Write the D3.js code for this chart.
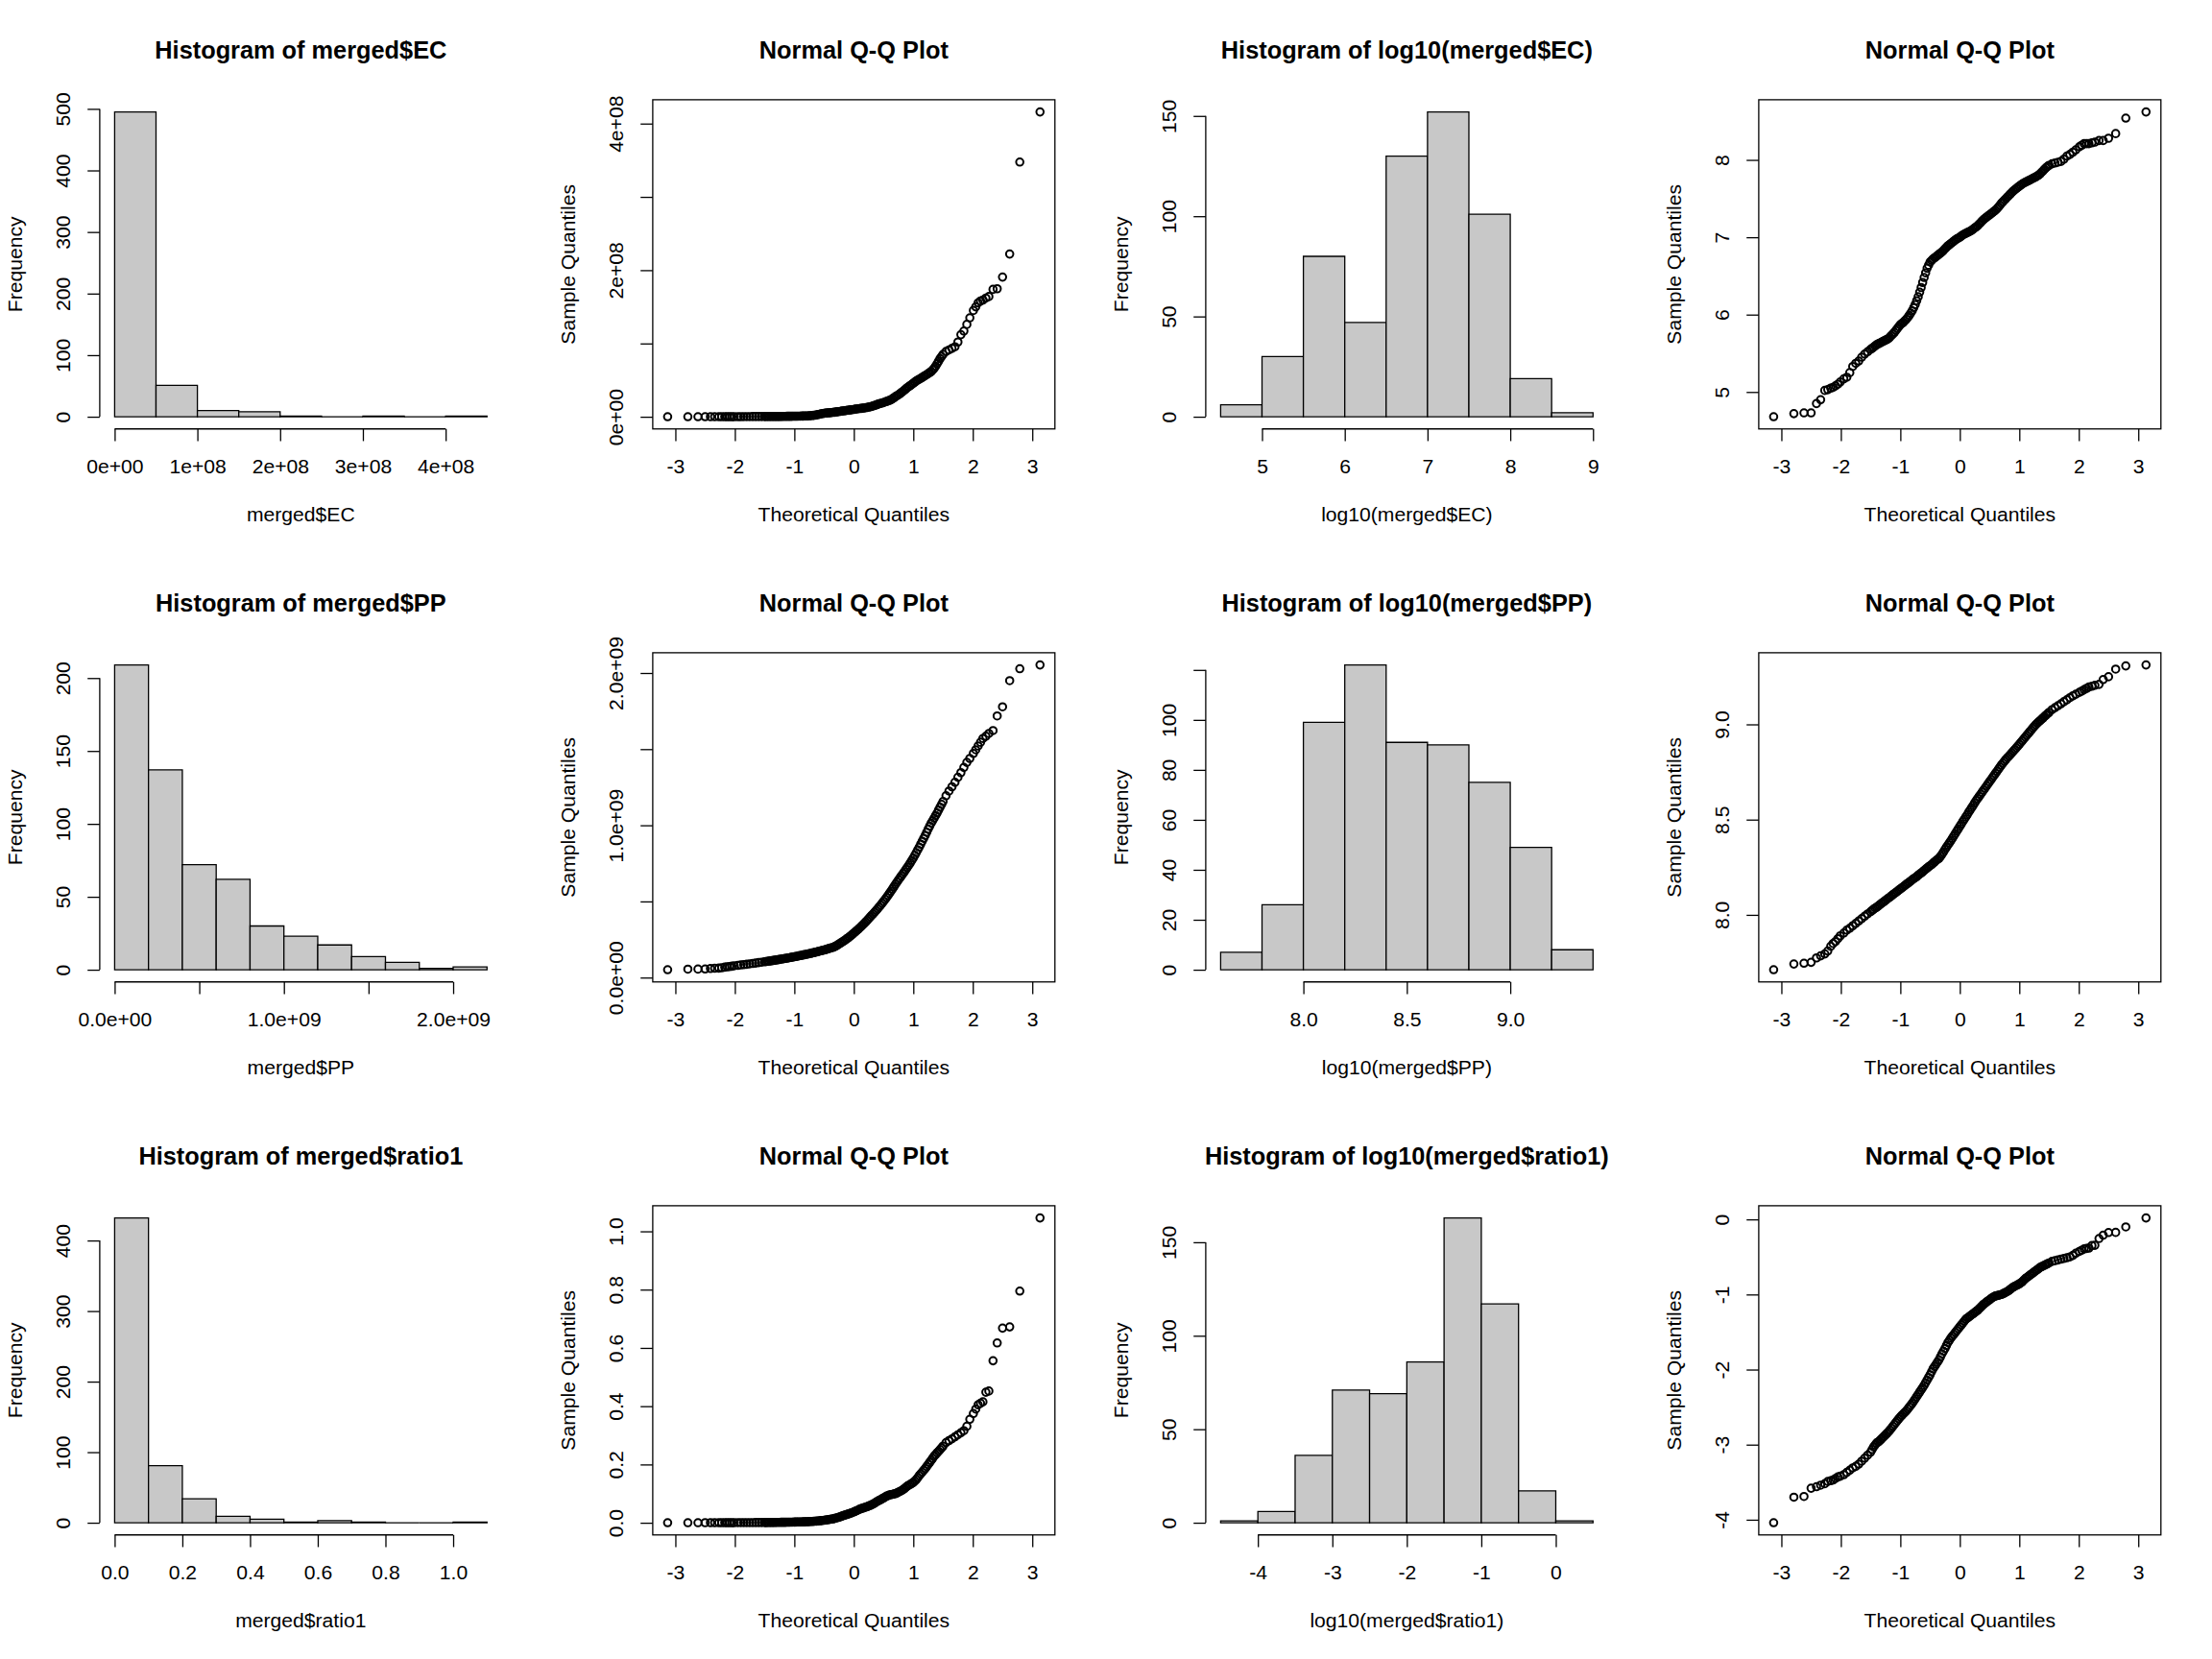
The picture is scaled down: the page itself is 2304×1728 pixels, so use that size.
<!DOCTYPE html>
<html>
<head>
<meta charset="utf-8">
<script src="https://cdn.jsdelivr.net/npm/d3@7"></script>
<style>
body { margin: 0; background: #fff; }
</style>
</head>
<body>
<script>
// ---- histogram data (x in plotted units: EC in 1e8, PP in 1e9) ----
var ecBreaks = [0, 0.5, 1, 1.5, 2, 2.5, 3, 3.5, 4, 4.5];
var ecCounts = [495, 51, 10, 8, 1, 0, 1, 0, 1];
var logEcBreaks = [4.5, 5, 5.5, 6, 6.5, 7, 7.5, 8, 8.5, 9];
var logEcCounts = [6, 30, 80, 47, 130, 152, 101, 19, 2];
var ppBreaks = [0, 0.2, 0.4, 0.6, 0.8, 1.0, 1.2, 1.4, 1.6, 1.8, 2.0, 2.2];
var ppCounts = [209, 137, 72, 62, 30, 23, 17, 9, 5, 1, 2];
var logPpBreaks = [7.6, 7.8, 8.0, 8.2, 8.4, 8.6, 8.8, 9.0, 9.2, 9.4];
var logPpCounts = [7, 26, 99, 122, 91, 90, 75, 49, 8];
var ratioBreaks = [0, 0.1, 0.2, 0.3, 0.4, 0.5, 0.6, 0.7, 0.8, 0.9, 1.0, 1.1];
var ratioCounts = [432, 81, 34, 9, 5, 1, 3, 1, 0, 0, 1];
var logRatioBreaks = [-4.5, -4, -3.5, -3, -2.5, -2, -1.5, -1, -0.5, 0, 0.5];
var logRatioCounts = [1, 6, 36, 71, 69, 86, 163, 117, 17, 1];

// ---- Q-Q data: theoretical quantiles and sample quantiles ----
// layout of every array: left tail (13) | -1.95..-1.55 (9) | -1.5..1.5 fine (121) | 1.55..1.95 (9) | right tail (13)
var theoQ = [
  -3.13, -2.79, -2.62, -2.50, -2.41, -2.34, -2.27, -2.22, -2.17, -2.13, -2.09, -2.05, -2.01,
  -1.95, -1.90, -1.85, -1.80, -1.75, -1.70, -1.65, -1.60, -1.55,
  -1.500, -1.475, -1.450, -1.425, -1.400, -1.375, -1.350, -1.325, -1.300, -1.275,
  -1.250, -1.225, -1.200, -1.175, -1.150, -1.125, -1.100, -1.075, -1.050, -1.025,
  -1.000, -0.975, -0.950, -0.925, -0.900, -0.875, -0.850, -0.825, -0.800, -0.775,
  -0.750, -0.725, -0.700, -0.675, -0.650, -0.625, -0.600, -0.575, -0.550, -0.525,
  -0.500, -0.475, -0.450, -0.425, -0.400, -0.375, -0.350, -0.325, -0.300, -0.275,
  -0.250, -0.225, -0.200, -0.175, -0.150, -0.125, -0.100, -0.075, -0.050, -0.025,
  0.000, 0.025, 0.050, 0.075, 0.100, 0.125, 0.150, 0.175, 0.200, 0.225,
  0.250, 0.275, 0.300, 0.325, 0.350, 0.375, 0.400, 0.425, 0.450, 0.475,
  0.500, 0.525, 0.550, 0.575, 0.600, 0.625, 0.650, 0.675, 0.700, 0.725,
  0.750, 0.775, 0.800, 0.825, 0.850, 0.875, 0.900, 0.925, 0.950, 0.975,
  1.000, 1.025, 1.050, 1.075, 1.100, 1.125, 1.150, 1.175, 1.200, 1.225,
  1.250, 1.275, 1.300, 1.325, 1.350, 1.375, 1.400, 1.425, 1.450, 1.475,
  1.500,
  1.55, 1.60, 1.65, 1.70, 1.75, 1.80, 1.85, 1.90, 1.95,
  2.01, 2.05, 2.09, 2.13, 2.17, 2.22, 2.27, 2.34, 2.41, 2.50, 2.62, 2.79, 3.13
];
// merged$EC, units of 1e8
var ecQQ = [
  0.0005, 0.0005, 0.0005, 0.0005, 0.0007, 0.0008, 0.001, 0.0011, 0.0011, 0.0011, 0.0012, 0.0013, 0.0013,
  0.0015, 0.0015, 0.0018, 0.002, 0.0023, 0.0025, 0.0028, 0.003, 0.0033,
  0.0035, 0.0037, 0.0038, 0.0039, 0.004, 0.0042, 0.0043, 0.0044, 0.0045, 0.0046,
  0.0047, 0.0049, 0.005, 0.0052, 0.0054, 0.0057, 0.006, 0.0063, 0.0066, 0.007,
  0.0074, 0.0077, 0.008, 0.0083, 0.0087, 0.0092, 0.0098, 0.0104, 0.011, 0.012,
  0.0135, 0.015, 0.017, 0.019, 0.022, 0.026, 0.03, 0.035, 0.04, 0.044,
  0.048, 0.05, 0.052, 0.054, 0.056, 0.058, 0.06, 0.062, 0.065, 0.068,
  0.071, 0.074, 0.078, 0.080, 0.083, 0.086, 0.089, 0.092, 0.095, 0.097,
  0.10, 0.104, 0.107, 0.11, 0.112, 0.115, 0.117, 0.12, 0.123, 0.127,
  0.132, 0.136, 0.141, 0.148, 0.155, 0.162, 0.17, 0.176, 0.182, 0.188,
  0.195, 0.202, 0.209, 0.216, 0.224, 0.234, 0.245, 0.26, 0.275, 0.287,
  0.30, 0.315, 0.33, 0.346, 0.363, 0.38, 0.398, 0.412, 0.427, 0.442,
  0.457, 0.473, 0.49, 0.501, 0.513, 0.525, 0.537, 0.55, 0.562, 0.575,
  0.589, 0.603, 0.617, 0.638, 0.66, 0.69, 0.724, 0.758, 0.794, 0.822,
  0.851,
  0.89, 0.912, 0.933, 0.955, 1.02, 1.12, 1.17, 1.26, 1.35,
  1.45, 1.50, 1.555, 1.58, 1.593, 1.62, 1.64, 1.738, 1.747, 1.906, 2.22, 3.475, 4.159
];
var logEcQQ = [
  4.68, 4.72, 4.73, 4.73, 4.85, 4.90, 5.02, 5.03, 5.05, 5.06, 5.08, 5.10, 5.13,
  5.17, 5.19, 5.25, 5.33, 5.37, 5.40, 5.45, 5.49, 5.52,
  5.55, 5.565, 5.58, 5.595, 5.61, 5.62, 5.63, 5.64, 5.65, 5.66,
  5.67, 5.68, 5.69, 5.71, 5.73, 5.75, 5.77, 5.795, 5.82, 5.845,
  5.87, 5.885, 5.90, 5.92, 5.94, 5.965, 5.99, 6.02, 6.05, 6.09,
  6.13, 6.18, 6.23, 6.29, 6.35, 6.415, 6.48, 6.54, 6.60, 6.64,
  6.68, 6.70, 6.72, 6.735, 6.75, 6.765, 6.78, 6.795, 6.81, 6.83,
  6.85, 6.87, 6.89, 6.905, 6.92, 6.935, 6.95, 6.965, 6.98, 6.99,
  7.00, 7.015, 7.03, 7.04, 7.05, 7.06, 7.07, 7.08, 7.09, 7.105,
  7.12, 7.135, 7.15, 7.17, 7.19, 7.21, 7.23, 7.245, 7.26, 7.275,
  7.29, 7.305, 7.32, 7.335, 7.35, 7.37, 7.39, 7.415, 7.44, 7.46,
  7.48, 7.50, 7.52, 7.54, 7.56, 7.58, 7.60, 7.615, 7.63, 7.645,
  7.66, 7.675, 7.69, 7.70, 7.71, 7.72, 7.73, 7.74, 7.75, 7.76,
  7.77, 7.78, 7.79, 7.805, 7.82, 7.84, 7.86, 7.88, 7.90, 7.915,
  7.93,
  7.95, 7.96, 7.97, 7.98, 8.01, 8.05, 8.07, 8.10, 8.13,
  8.17, 8.19, 8.21, 8.21, 8.21, 8.22, 8.23, 8.25, 8.25, 8.28, 8.34, 8.54, 8.62
];
// merged$PP, units of 1e9
var ppQQ = [
  0.0515, 0.0552, 0.0557, 0.0564, 0.0594, 0.061, 0.0624, 0.0646, 0.0684, 0.0708, 0.0724, 0.075, 0.0776,
  0.0804, 0.0832, 0.0851, 0.0877, 0.0902, 0.0929, 0.0955, 0.0984, 0.1012,
  0.104, 0.1055, 0.1069, 0.1083, 0.1096, 0.1112, 0.1127, 0.1143, 0.1159, 0.1175,
  0.1191, 0.1208, 0.1225, 0.1242, 0.1259, 0.1276, 0.1294, 0.1312, 0.133, 0.1349,
  0.1368, 0.1387, 0.1406, 0.1425, 0.1445, 0.1465, 0.1486, 0.1507, 0.1528, 0.1547,
  0.1567, 0.159, 0.1614, 0.1637, 0.166, 0.1685, 0.171, 0.1736, 0.1762, 0.1786,
  0.1811, 0.1838, 0.1866, 0.1897, 0.1928, 0.1955, 0.1982, 0.203, 0.208, 0.214,
  0.2203, 0.2265, 0.2328, 0.239, 0.2455, 0.2527, 0.26, 0.2677, 0.2754, 0.2835,
  0.2917, 0.3003, 0.309, 0.3178, 0.3266, 0.3362, 0.3459, 0.3557, 0.3656, 0.3764,
  0.3873, 0.3978, 0.4083, 0.4189, 0.4295, 0.4407, 0.4519, 0.4636, 0.4753, 0.4876,
  0.5, 0.513, 0.526, 0.5397, 0.5534, 0.5677, 0.5821, 0.5972, 0.6124, 0.6268,
  0.6412, 0.6547, 0.6683, 0.6816, 0.695, 0.7097, 0.7244, 0.7389, 0.7534, 0.7693,
  0.7852, 0.8028, 0.8204, 0.8387, 0.857, 0.8762, 0.8954, 0.9143, 0.9333, 0.9541,
  0.975, 0.9945, 1.014, 1.030, 1.047, 1.064, 1.081, 1.10, 1.119, 1.137,
  1.156,
  1.194, 1.225, 1.253, 1.282, 1.315, 1.346, 1.38, 1.413, 1.439,
  1.472, 1.496, 1.521, 1.545, 1.57, 1.585, 1.603, 1.622, 1.718, 1.778, 1.95, 2.028, 2.053
];
var logPpQQ = [
  7.712, 7.742, 7.746, 7.751, 7.774, 7.785, 7.795, 7.81, 7.835, 7.85, 7.86, 7.875, 7.89,
  7.905, 7.92, 7.93, 7.943, 7.955, 7.968, 7.98, 7.993, 8.005,
  8.017, 8.023, 8.029, 8.035, 8.04, 8.046, 8.052, 8.058, 8.064, 8.07,
  8.076, 8.082, 8.088, 8.094, 8.10, 8.106, 8.112, 8.118, 8.124, 8.13,
  8.136, 8.142, 8.148, 8.154, 8.16, 8.166, 8.172, 8.178, 8.184, 8.19,
  8.195, 8.201, 8.208, 8.214, 8.22, 8.226, 8.233, 8.24, 8.246, 8.252,
  8.258, 8.264, 8.271, 8.278, 8.285, 8.291, 8.297, 8.307, 8.318, 8.33,
  8.343, 8.355, 8.367, 8.378, 8.39, 8.402, 8.415, 8.427, 8.44, 8.452,
  8.465, 8.477, 8.49, 8.502, 8.514, 8.526, 8.539, 8.551, 8.563, 8.575,
  8.588, 8.6, 8.611, 8.622, 8.633, 8.644, 8.655, 8.666, 8.677, 8.688,
  8.699, 8.71, 8.721, 8.732, 8.743, 8.754, 8.765, 8.776, 8.787, 8.797,
  8.807, 8.816, 8.825, 8.833, 8.842, 8.851, 8.86, 8.868, 8.877, 8.886,
  8.895, 8.905, 8.914, 8.924, 8.933, 8.943, 8.952, 8.961, 8.97, 8.98,
  8.989, 8.998, 9.006, 9.013, 9.02, 9.027, 9.034, 9.042, 9.049, 9.056,
  9.063,
  9.077, 9.088, 9.098, 9.108, 9.119, 9.129, 9.14, 9.15, 9.158,
  9.168, 9.175, 9.182, 9.189, 9.196, 9.20, 9.205, 9.21, 9.235, 9.25, 9.29, 9.307, 9.312
];
var ratioQQ = [
  0.0001, 0.0002, 0.0002, 0.00026, 0.00028, 0.00029, 0.0003, 0.00032, 0.00033, 0.00034, 0.00035, 0.00037, 0.00038,
  0.0004, 0.00043, 0.00046, 0.00049, 0.00051, 0.00055, 0.0006, 0.00066, 0.00072,
  0.00079, 0.00086, 0.00093, 0.00099, 0.00105, 0.00108, 0.00112, 0.00117, 0.00123, 0.00129,
  0.00135, 0.00141, 0.00148, 0.00157, 0.00166, 0.00176, 0.00186, 0.00197, 0.00209, 0.00221,
  0.00234, 0.00245, 0.00257, 0.00269, 0.00282, 0.00298, 0.00316, 0.00335, 0.00355, 0.0038,
  0.00407, 0.00436, 0.00468, 0.00501, 0.00537, 0.00575, 0.00617, 0.00668, 0.00724, 0.00785,
  0.00851, 0.0093, 0.0102, 0.011, 0.0117, 0.0126, 0.0135, 0.0148, 0.0162, 0.0176,
  0.0191, 0.0209, 0.0229, 0.0245, 0.0263, 0.0278, 0.0295, 0.0313, 0.0331, 0.0351,
  0.0372, 0.0394, 0.0417, 0.0442, 0.0468, 0.0484, 0.0501, 0.0518, 0.0537, 0.0555,
  0.0575, 0.0596, 0.0617, 0.0646, 0.0676, 0.0708, 0.0741, 0.0767, 0.0794, 0.0822,
  0.0851, 0.0881, 0.0912, 0.0933, 0.0955, 0.0966, 0.0977, 0.0988, 0.100, 0.1025,
  0.105, 0.1075, 0.110, 0.1135, 0.117, 0.1215, 0.126, 0.129, 0.132, 0.135,
  0.138, 0.143, 0.148, 0.155, 0.162, 0.168, 0.174, 0.18, 0.186, 0.193,
  0.200, 0.207, 0.214, 0.221, 0.229, 0.234, 0.240, 0.245, 0.251, 0.257,
  0.263,
  0.275, 0.282, 0.288, 0.295, 0.302, 0.309, 0.316, 0.331, 0.355,
  0.375, 0.39, 0.405, 0.41, 0.415, 0.448, 0.452, 0.556, 0.617, 0.668, 0.672, 0.795, 1.046
];
var logRatioQQ = [
  -4.04, -3.70, -3.69, -3.58, -3.56, -3.54, -3.52, -3.49, -3.48, -3.47, -3.45, -3.43, -3.42,
  -3.40, -3.37, -3.34, -3.31, -3.29, -3.26, -3.22, -3.18, -3.14,
  -3.10, -3.065, -3.03, -3.005, -2.98, -2.965, -2.95, -2.93, -2.91, -2.89,
  -2.87, -2.85, -2.83, -2.805, -2.78, -2.755, -2.73, -2.705, -2.68, -2.655,
  -2.63, -2.61, -2.59, -2.57, -2.55, -2.525, -2.50, -2.475, -2.45, -2.42,
  -2.39, -2.36, -2.33, -2.30, -2.27, -2.24, -2.21, -2.175, -2.14, -2.105,
  -2.07, -2.03, -1.99, -1.96, -1.93, -1.90, -1.87, -1.83, -1.79, -1.755,
  -1.72, -1.68, -1.64, -1.61, -1.58, -1.555, -1.53, -1.505, -1.48, -1.455,
  -1.43, -1.405, -1.38, -1.355, -1.33, -1.315, -1.30, -1.285, -1.27, -1.255,
  -1.24, -1.225, -1.21, -1.19, -1.17, -1.15, -1.13, -1.115, -1.10, -1.085,
  -1.07, -1.055, -1.04, -1.03, -1.02, -1.015, -1.01, -1.005, -1.00, -0.99,
  -0.98, -0.97, -0.96, -0.945, -0.93, -0.915, -0.90, -0.89, -0.88, -0.87,
  -0.86, -0.845, -0.83, -0.81, -0.79, -0.775, -0.76, -0.745, -0.73, -0.715,
  -0.70, -0.685, -0.67, -0.655, -0.64, -0.63, -0.62, -0.61, -0.60, -0.59,
  -0.58,
  -0.56, -0.55, -0.54, -0.53, -0.52, -0.51, -0.50, -0.48, -0.45,
  -0.426, -0.41, -0.393, -0.387, -0.382, -0.349, -0.345, -0.255, -0.21, -0.175, -0.173, -0.10, 0.0195
];

// ---- tick values and labels ----
var qqXTicks = [-3, -2, -1, 0, 1, 2, 3];
var qqXLabels = ["-3", "-2", "-1", "0", "1", "2", "3"];
var ecTicks = [0, 1, 2, 3, 4];
var ecHistLabels = ["0e+00", "1e+08", "2e+08", "3e+08", "4e+08"];
var ecQQLabels = ["0e+00", "", "2e+08", "", "4e+08"];
var ppTicks = [0, 0.5, 1, 1.5, 2];
var ppLabels = ["0.0e+00", "", "1.0e+09", "", "2.0e+09"];
var logEcTicks = [5, 6, 7, 8, 9];
var logEcQQTicks = [5, 6, 7, 8];
var logPpTicks = [8, 8.5, 9];
var logPpLabels = ["8.0", "8.5", "9.0"];
var ratioTicks = [0, 0.2, 0.4, 0.6, 0.8, 1.0];
var ratioLabels = ["0.0", "0.2", "0.4", "0.6", "0.8", "1.0"];
var logRatioTicks = [-4, -3, -2, -1, 0];
var freqTicksEc = [0, 100, 200, 300, 400, 500];
var freqTicksLogEc = [0, 50, 100, 150];
var freqTicksPp = [0, 50, 100, 150, 200];
var freqTicksLogPp = [0, 20, 40, 60, 80, 100, 120];
var freqLabelsLogPp = ["0", "20", "40", "60", "80", "100", ""];
var freqTicksRatio = [0, 100, 200, 300, 400];
var freqTicksLogRatio = [0, 50, 100, 150];

// ---- layout (R base graphics, mfrow 3x4) ----
var W = 2304, H = 1728, pw = 576, ph = 576;
var L = 25.34;                       // one margin line
var margin = {top: 4.1 * L, right: 2.1 * L, bottom: 5.1 * L, left: 4.1 * L},
    iw = pw - margin.left - margin.right,
    ih = ph - margin.top - margin.bottom;
var ff = "'Liberation Sans', Arial, Helvetica, sans-serif";
var fs = 21.12, fsMain = 25.34, tick = 0.5 * L, lw = 1.3;
var barFill = "#c8c8c8";

var svg = d3.select("body").append("svg")
    .attr("width", W)
    .attr("height", H)
    .style("display", "block")
    .style("background", "#fff");

function rExt(lo, hi) {
  var d = (hi - lo) * 0.04;
  return [lo - d, hi + d];
}

function str(a) { return a.map(function(d) { return String(d); }); }

function panel(col, row) {
  return svg.append("g")
    .attr("transform", "translate(" + (col * pw + margin.left) + "," + (row * ph + margin.top) + ")");
}

function bottomAxis(g, x, ticks, labels, line) {
  var ax = g.append("g")
    .attr("transform", "translate(0," + ih + ")")
    .call(d3.axisBottom(x).tickValues(ticks).tickSize(tick).tickSizeOuter(0)
      .tickFormat(function(d, i) { return labels[i]; }));
  ax.select(".domain").remove();
  ax.attr("font-family", ff).attr("font-size", fs);
  ax.selectAll("line").attr("stroke", "#000").attr("stroke-width", lw);
  ax.selectAll("text").attr("fill", "#000").attr("y", 46).attr("dy", null);
  if (line) {
    ax.append("line")
      .attr("x1", x(ticks[0])).attr("x2", x(ticks[ticks.length - 1]))
      .attr("stroke", "#000").attr("stroke-width", lw);
  }
}

function leftAxis(g, y, ticks, labels, line) {
  var ax = g.append("g")
    .call(d3.axisLeft(y).tickValues(ticks).tickSize(tick).tickSizeOuter(0)
      .tickFormat(function(d, i) { return labels[i]; }));
  ax.select(".domain").remove();
  ax.attr("font-family", ff).attr("font-size", fs);
  ax.selectAll("line").attr("stroke", "#000").attr("stroke-width", lw);
  ax.selectAll("text")
    .attr("fill", "#000")
    .attr("x", 0).attr("dy", null)
    .attr("y", -1.2 * L)
    .attr("text-anchor", "middle")
    .attr("transform", "rotate(-90)");
  if (line) {
    ax.append("line")
      .attr("y1", y(ticks[0])).attr("y2", y(ticks[ticks.length - 1]))
      .attr("stroke", "#000").attr("stroke-width", lw);
  }
}

function labels(g, main, xlab, ylab) {
  g.append("text")
    .attr("x", iw / 2).attr("y", -43.2)
    .attr("text-anchor", "middle")
    .attr("font-family", ff).attr("font-size", fsMain).attr("font-weight", "bold")
    .text(main);
  g.append("text")
    .attr("x", iw / 2).attr("y", ih + 3.8 * L)
    .attr("text-anchor", "middle")
    .attr("font-family", ff).attr("font-size", fs)
    .text(xlab);
  g.append("text")
    .attr("transform", "translate(" + (-3.2 * L) + "," + (ih / 2) + ")rotate(-90)")
    .attr("text-anchor", "middle")
    .attr("font-family", ff).attr("font-size", fs)
    .text(ylab);
}

function drawHist(col, row, breaks, counts, xTicks, xLabels, yTicks, yLabels, main, xlab) {
  var g = panel(col, row);
  var x = d3.scaleLinear().domain(rExt(breaks[0], breaks[breaks.length - 1])).range([0, iw]);
  var y = d3.scaleLinear().domain(rExt(0, d3.max(counts))).range([ih, 0]);

  // paths so that empty bins still show as a line on the baseline, like R
  g.selectAll(".bar")
    .data(counts)
    .enter()
    .append("path")
    .attr("class", "bar")
    .attr("d", function(d, i) {
      var x0 = x(breaks[i]), x1 = x(breaks[i + 1]);
      return "M" + x0 + "," + y(0) + "V" + y(d) + "H" + x1 + "V" + y(0) + "Z";
    })
    .attr("fill", barFill)
    .attr("stroke", "#000")
    .attr("stroke-width", lw);

  bottomAxis(g, x, xTicks, xLabels, true);
  leftAxis(g, y, yTicks, yLabels, true);
  labels(g, main, xlab, "Frequency");
}

function drawQQ(col, row, values, yTicks, yLabels) {
  var g = panel(col, row);
  var x = d3.scaleLinear().domain(rExt(d3.min(theoQ), d3.max(theoQ))).range([0, iw]);
  var y = d3.scaleLinear().domain(rExt(d3.min(values), d3.max(values))).range([ih, 0]);

  g.selectAll(".pt")
    .data(values)
    .enter()
    .append("circle")
    .attr("class", "pt")
    .attr("cx", function(d, i) { return x(theoQ[i]); })
    .attr("cy", function(d) { return y(d); })
    .attr("r", 3.8)
    .attr("fill", "none")
    .attr("stroke", "#000")
    .attr("stroke-width", 2);

  bottomAxis(g, x, qqXTicks, qqXLabels, false);
  leftAxis(g, y, yTicks, yLabels, false);
  g.append("rect")
    .attr("width", iw).attr("height", ih)
    .attr("fill", "none").attr("stroke", "#000").attr("stroke-width", lw);
  labels(g, "Normal Q-Q Plot", "Theoretical Quantiles", "Sample Quantiles");
}

// row 1: EC
drawHist(0, 0, ecBreaks, ecCounts, ecTicks, ecHistLabels, freqTicksEc, str(freqTicksEc),
  "Histogram of merged$EC", "merged$EC");
drawQQ(1, 0, ecQQ, ecTicks, ecQQLabels);
drawHist(2, 0, logEcBreaks, logEcCounts, logEcTicks, str(logEcTicks), freqTicksLogEc, str(freqTicksLogEc),
  "Histogram of log10(merged$EC)", "log10(merged$EC)");
drawQQ(3, 0, logEcQQ, logEcQQTicks, str(logEcQQTicks));

// row 2: PP
drawHist(0, 1, ppBreaks, ppCounts, ppTicks, ppLabels, freqTicksPp, str(freqTicksPp),
  "Histogram of merged$PP", "merged$PP");
drawQQ(1, 1, ppQQ, ppTicks, ppLabels);
drawHist(2, 1, logPpBreaks, logPpCounts, logPpTicks, logPpLabels, freqTicksLogPp, freqLabelsLogPp,
  "Histogram of log10(merged$PP)", "log10(merged$PP)");
drawQQ(3, 1, logPpQQ, logPpTicks, logPpLabels);

// row 3: ratio1
drawHist(0, 2, ratioBreaks, ratioCounts, ratioTicks, ratioLabels, freqTicksRatio, str(freqTicksRatio),
  "Histogram of merged$ratio1", "merged$ratio1");
drawQQ(1, 2, ratioQQ, ratioTicks, ratioLabels);
drawHist(2, 2, logRatioBreaks, logRatioCounts, logRatioTicks, str(logRatioTicks), freqTicksLogRatio, str(freqTicksLogRatio),
  "Histogram of log10(merged$ratio1)", "log10(merged$ratio1)");
drawQQ(3, 2, logRatioQQ, logRatioTicks, str(logRatioTicks));
</script>
</body>
</html>
